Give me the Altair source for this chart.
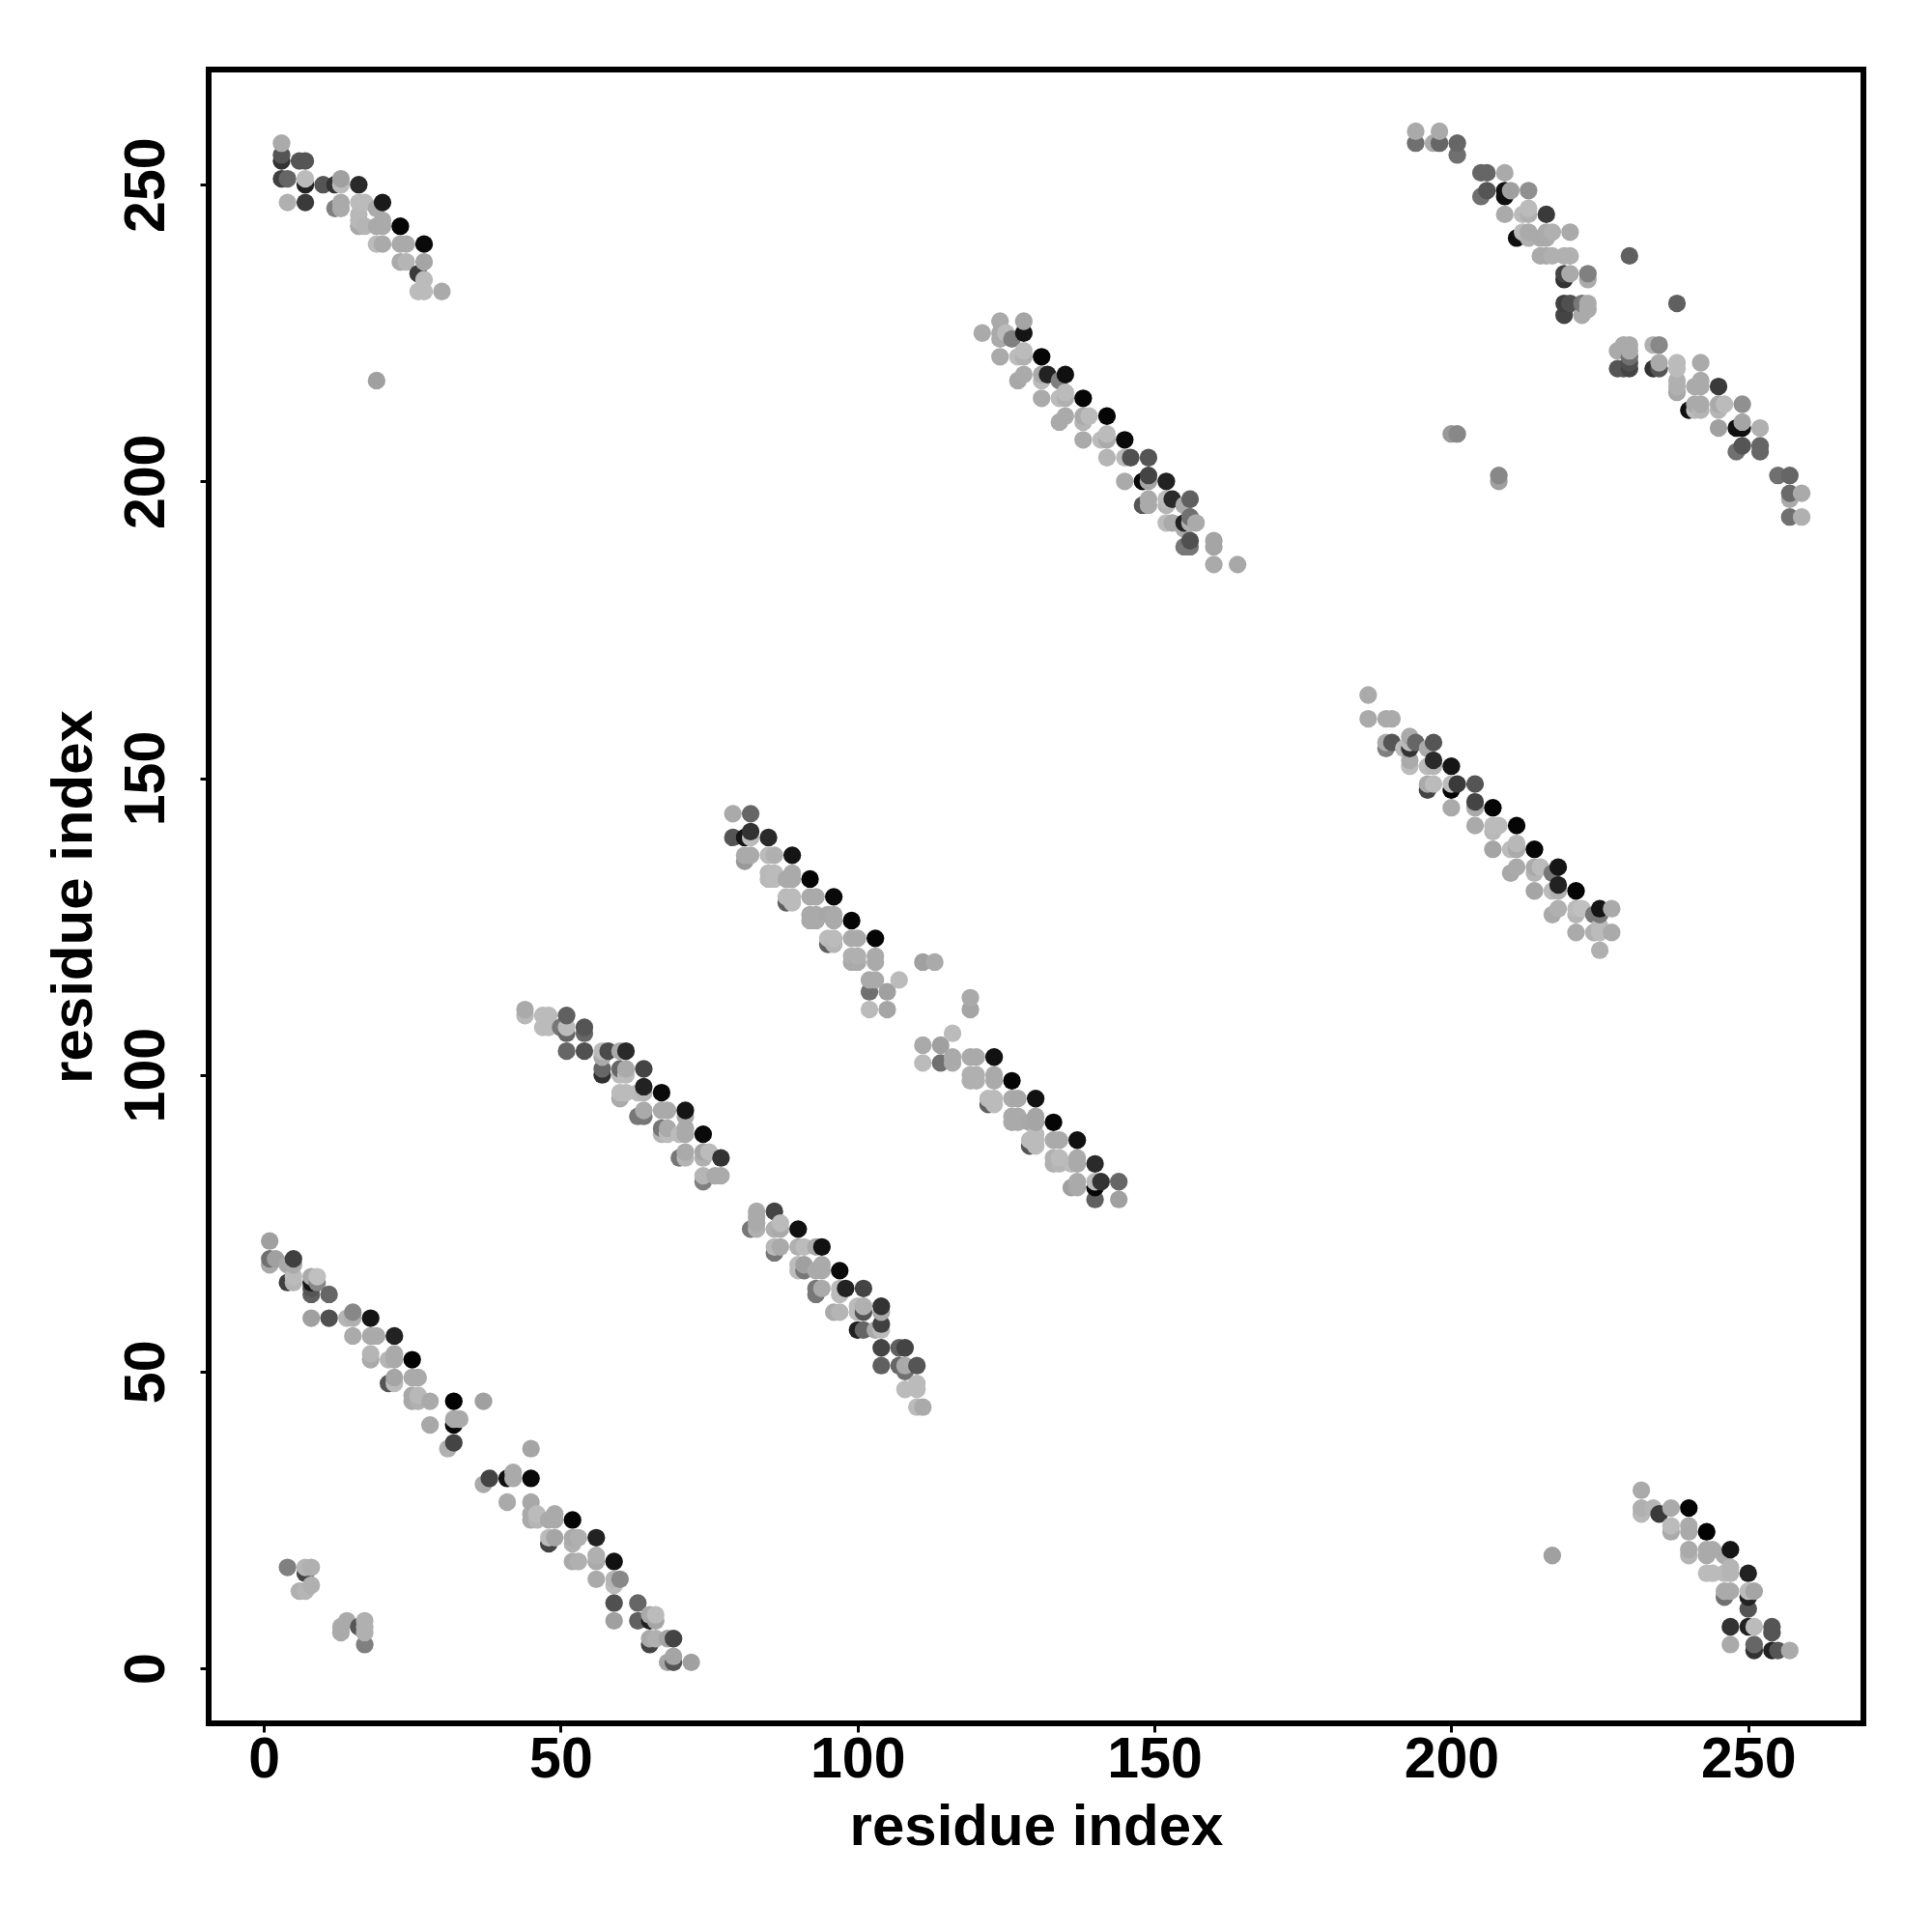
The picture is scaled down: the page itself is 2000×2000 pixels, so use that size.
import altair as alt
import pandas as pd

# (residue i, residue j, grey level), one list per stripe
top_left = [
 (3,257,0xAA),(3,255,0x55),(3,254,0x33),(3,251,0x40),(4,251,0x66),(4,247,0xB0),(6,254,0x55),(7,254,0x55),
 (7,250,0x22),(7,251,0xBB),(7,247,0x3A),(10,250,0x55),(12,250,0x33),(13,251,0xA0),(13,250,0xBB),(16,250,0x2A),
 (12,246,0x80),(13,247,0xAA),(13,246,0xAA),(16,247,0xBB),(17,247,0xBB),(16,245,0xB8),(16,244,0xB8),(16,243,0xAA),
 (17,243,0xB5),(19,246,0xAA),(20,247,0x1A),(20,244,0xAA),(19,243,0xAA),(20,243,0xAA),(23,243,0x05),(19,240,0xBB),
 (20,240,0xAA),(23,240,0xAA),(24,240,0xAA),(27,240,0x0A),(23,237,0xAA),(24,237,0xB5),(27,237,0xA5),(26,235,0x3A),
 (27,234,0xBB),(26,232,0xBB),(27,232,0xBB),(30,232,0xAA),(19,217,0xA0),
]
top_middle = [
 (121,225,0xAA),(124,227,0xAA),(124,225,0xAA),(124,224,0xAA),(125,225,0xBB),(124,221,0xAA),(126,224,0x80),(128,225,0x15),
 (128,227,0xA5),(127,221,0xBB),(128,222,0xBB),(128,221,0xB0),(131,221,0x05),(127,217,0xA8),(128,218,0xAA),(131,218,0xAA),
 (131,217,0xBB),(132,218,0x22),(134,217,0x80),(135,218,0x10),(131,214,0xAA),(134,214,0xBB),(135,214,0xB0),(135,215,0xBB),
 (138,214,0x05),(134,210,0xAA),(135,211,0xAA),(138,211,0xAA),(138,210,0xB5),(139,211,0xBB),(142,211,0x05),(138,207,0xAA),
 (141,207,0xBB),(142,207,0xAA),(142,208,0xBB),(145,207,0x0A),(142,204,0xB5),(145,204,0xBB),(146,204,0x50),(149,204,0x55),
 (145,200,0xAA),(148,200,0x0A),(149,200,0xA5),(149,201,0x44),(152,200,0x22),(148,196,0x55),(149,197,0xAA),(149,196,0xAA),
 (152,197,0xBB),(152,196,0xB5),(153,197,0x2A),(155,196,0xAA),(156,197,0x60),(152,193,0xBB),(153,193,0xAA),(155,193,0x22),
 (156,194,0x70),(156,193,0xB0),(157,193,0xAA),(155,189,0x77),(156,189,0x77),(156,190,0x50),(155,192,0xAA),(160,190,0xA5),
 (160,189,0xA5),(160,186,0xAA),(164,186,0xA8),
]
top_right = [
 (194,259,0xAA),(194,257,0x70),(197,257,0xAA),(198,259,0xAA),(198,257,0x66),(201,257,0x66),(201,255,0x70),(205,252,0x66),
 (206,252,0x66),(209,252,0xAA),(205,248,0x70),(206,249,0x55),(209,248,0x10),(209,249,0x11),(210,249,0xA0),(213,249,0x90),
 (209,245,0xAA),(212,245,0xBB),(213,246,0xBB),(213,245,0xB0),(216,245,0x3A),(212,242,0xBB),(211,241,0x10),(213,242,0xAA),
 (213,241,0xB0),(215,241,0xAA),(216,242,0xAA),(216,241,0xAA),(217,242,0xB0),(220,242,0xAA),(215,238,0xAA),(216,238,0xAA),
 (217,238,0xB0),(219,238,0xB0),(220,238,0xB0),(219,235,0x44),(219,234,0x33),(220,235,0xAA),(223,235,0x80),(223,234,0xAA),
 (230,238,0x60),(219,230,0x40),(220,230,0x50),(219,228,0x44),(222,230,0x77),(223,230,0xAA),(223,229,0xAA),(222,228,0xAA),
 (238,230,0x60),(228,222,0xAA),(229,223,0xAA),(230,223,0xAA),(230,222,0xAA),(230,221,0x70),(230,220,0x50),(230,219,0x44),
 (228,219,0x55),(229,219,0x55),(234,223,0xB0),(235,223,0x88),(234,219,0x33),(235,219,0x55),(235,220,0xAA),(238,220,0xBB),
 (238,219,0xBB),(238,217,0xB0),(238,216,0xB0),(238,215,0xA8),(242,220,0xAA),(241,216,0xAA),(242,217,0xAA),(242,216,0xAA),
 (245,216,0x3A),(241,213,0xAA),(240,212,0x10),(241,212,0xBB),(242,213,0xAA),(242,212,0xB5),(245,213,0xAA),(245,212,0xB5),
 (246,213,0xBB),(249,213,0x90),(245,209,0xA0),(248,209,0x11),(249,209,0x11),(249,210,0xA5),(252,209,0xB0),(248,205,0x70),
 (249,206,0x55),(252,206,0x66),(252,205,0x66),(255,201,0x70),(257,201,0x66),(257,198,0x6A),(257,197,0xAA),(259,198,0xAA),
 (257,194,0x70),(259,194,0xB0),(200,208,0x99),(201,208,0x88),(208,201,0x88),(208,200,0xA0),
]
right_middle = [
 (186,164,0xAA),(186,160,0xAA),(189,160,0xAA),(190,160,0xAA),(189,156,0xAA),(189,155,0x80),(190,156,0x55),(192,155,0xBB),
 (193,157,0xAA),(193,156,0xBB),(193,155,0x33),(194,156,0x66),(196,155,0xAA),(197,156,0x55),(193,153,0xAA),(193,152,0xBB),
 (196,152,0xBB),(197,152,0xB5),(197,153,0x2A),(200,152,0x15),(196,149,0xAA),(197,149,0xBB),(196,148,0x44),(200,149,0xBB),
 (200,148,0x05),(201,149,0x3A),(204,149,0x55),(200,145,0xAA),(204,146,0x44),(204,145,0xAA),(204,142,0xAA),(207,145,0x05),
 (207,142,0xBB),(207,141,0xB8),(208,142,0xBB),(211,142,0x05),(207,138,0xA5),(210,138,0xBB),(211,139,0xB8),(211,138,0xAA),
 (214,138,0x05),(210,134,0xA8),(211,135,0xAA),(214,135,0xAA),(214,134,0xB5),(215,135,0xBB),(217,134,0x77),(218,135,0x15),
 (218,132,0x22),(214,131,0xA5),(217,131,0xBB),(218,131,0xB0),(221,131,0x05),(217,127,0xAA),(218,128,0xB0),(221,128,0xBB),
 (221,127,0xB5),(222,128,0xC0),(224,127,0x77),(225,128,0x15),(225,127,0x77),(227,128,0xAA),(221,124,0xAA),(224,124,0xB0),
 (225,124,0xBB),(227,124,0xAA),(225,121,0xB0),(225,125,0xBB),
]
centre_upper = [
 (79,144,0xAA),(82,144,0x66),(79,140,0x55),(81,140,0x15),(82,141,0x33),(82,140,0xBB),(85,140,0x2A),(81,137,0xAA),
 (82,137,0xAA),(81,136,0x99),(85,137,0xBB),(86,137,0xB0),(89,137,0x15),(85,134,0xB8),(85,133,0xB8),(86,134,0xBB),
 (86,133,0xBB),(89,134,0xAA),(88,133,0xAA),(89,133,0xAA),(92,133,0x05),(88,130,0xBB),(88,129,0x60),(89,130,0xBB),
 (89,129,0xBB),(92,130,0xAA),(93,130,0xAA),(96,130,0x0A),(92,127,0xAA),(92,126,0xAA),(93,127,0xAA),(93,126,0xAA),
 (95,127,0xA8),(96,127,0xAA),(96,126,0xAA),(99,126,0x05),(95,123,0xBB),(95,122,0x60),(96,123,0xBB),(96,122,0xB5),
 (99,123,0xAA),(100,123,0xAA),(103,123,0x05),(99,120,0xB0),(99,119,0xAA),(100,120,0xB0),(100,119,0xAA),(103,120,0xAA),
 (103,119,0xAA),(102,116,0xAA),(103,116,0xAA),(102,114,0x70),(105,114,0xA0),(107,116,0xBB),(102,111,0xBB),(105,111,0xA5),
 (111,119,0xA0),(113,119,0xAA),
]
centre_lower = [
 (119,113,0xAA),(119,111,0xA5),(116,107,0xBB),(111,105,0xAA),(114,105,0xA0),(111,102,0xBB),(114,102,0x70),(116,103,0xAA),
 (116,102,0xAA),(119,103,0xAA),(120,103,0xAA),(123,103,0x11),(119,100,0xB0),(119,99,0xB0),(120,100,0xB0),(120,99,0xB0),
 (123,100,0xAA),(123,99,0xAA),(126,99,0x05),(122,96,0xBB),(122,95,0x60),(123,96,0xBB),(123,95,0xBB),(126,96,0xAA),
 (127,96,0xA8),(130,96,0x11),(126,93,0xAA),(126,92,0xAA),(127,93,0xAA),(127,92,0xAA),(130,93,0xA5),(130,92,0xA5),
 (129,92,0xA8),(133,92,0x05),(129,89,0xBB),(129,88,0x55),(130,90,0xBB),(130,89,0xBB),(130,88,0xBB),(133,89,0xAA),
 (134,89,0xAA),(137,89,0x11),(133,86,0xB0),(133,85,0xB0),(134,86,0xBB),(134,85,0xB5),(136,85,0xBB),(137,86,0xAA),
 (137,85,0xAA),(140,85,0x2A),(136,81,0xA0),(137,82,0xAA),(137,81,0xAA),(140,82,0xBB),(140,81,0x05),(141,82,0x33),
 (144,82,0x66),(140,79,0x60),(144,79,0xA0),
]
left_upper = [
 (44,111,0xAA),(44,110,0xB8),(47,110,0xBB),(48,110,0xBB),(47,108,0xBB),(48,108,0xBB),(50,108,0x77),(51,110,0x60),
 (51,108,0xBB),(51,107,0x66),(54,108,0x55),(54,107,0x66),(51,104,0x66),(54,104,0x50),(57,104,0xBB),(58,104,0x4A),
 (57,103,0xAA),(60,104,0xAA),(61,104,0x2A),(57,101,0x66),(57,100,0x30),(60,101,0x66),(61,101,0xAA),(60,100,0xBB),
 (61,100,0xBB),(64,101,0x44),(60,97,0xBB),(60,96,0xAA),(61,97,0xBB),(64,98,0x22),(64,97,0xB5),(63,97,0xBB),
 (67,97,0x0A),(63,93,0x77),(64,93,0x77),(64,94,0xAA),(67,94,0xAA),(68,94,0xAA),(71,94,0x15),(71,93,0xAA),
 (67,91,0x77),(67,90,0xB5),(68,91,0xAA),(68,90,0xBB),(70,90,0xBB),(71,91,0xAA),(71,90,0xAA),(74,90,0x0A),
 (70,86,0x77),(71,87,0xAA),(71,86,0xB5),(74,87,0xA5),(74,86,0xB0),(75,87,0xBB),(77,86,0x33),(74,83,0xB5),
 (74,82,0x80),(76,83,0xAA),(77,83,0xAA),
]
mid_lower = [
 (83,77,0xAA),(83,76,0xAA),(83,75,0xAA),(82,74,0x77),(83,74,0xB0),(86,77,0x44),(86,74,0xB0),(87,75,0xBB),
 (87,74,0xAA),(90,74,0x11),(86,71,0xB8),(86,70,0x77),(87,71,0xAA),(90,71,0xB0),(91,71,0xBB),(93,71,0xAA),
 (94,71,0x11),(90,68,0xBB),(90,67,0xBB),(91,68,0xA0),(91,67,0x77),(93,67,0xAA),(94,68,0xAA),(94,67,0xAA),
 (97,67,0x0A),(93,64,0x77),(93,63,0x77),(94,64,0xAA),(97,64,0xBB),(97,63,0xBB),(98,64,0x22),(101,64,0x44),
 (96,60,0xAA),(97,60,0xB5),(100,61,0xBB),(100,60,0xBB),(101,61,0xB0),(101,60,0x55),(104,61,0x33),(104,60,0xAA),
 (104,58,0x40),(104,57,0xBB),(100,57,0x22),(101,57,0x66),(103,57,0xAA),(104,54,0x44),(107,54,0x60),(108,54,0x44),
 (104,51,0x60),(107,51,0x66),(108,51,0xAA),(108,50,0x70),(110,51,0x55),(108,47,0xBB),(110,48,0xBB),(110,47,0xBB),
 (110,44,0xBB),(111,44,0xAA),
]
low_left_a = [
 (1,72,0xA0),(1,69,0x70),(1,68,0xA8),(2,69,0xA0),(5,69,0x40),(4,68,0xA8),(5,68,0xAA),(4,65,0x40),
 (5,65,0xB5),(5,66,0xBB),(8,66,0xAA),(9,66,0xC0),(8,65,0x15),(9,65,0x88),(8,64,0x55),(8,63,0x60),
 (11,63,0x66),(8,59,0xA0),(11,59,0x50),(14,59,0xB5),(15,60,0x88),(15,59,0xB0),(18,59,0x15),(15,56,0xAA),
 (18,56,0xAA),(19,56,0xAA),(22,56,0x22),(18,53,0xB5),(18,52,0xAA),(21,52,0xB5),(22,53,0xAA),(22,52,0xAA),
 (25,52,0x02),(21,48,0x55),(22,49,0xA5),(22,48,0xBB),(25,49,0xAA),(26,49,0xAA),(25,46,0xA8),(25,45,0xA8),
 (26,46,0xB8),(26,45,0xB0),(28,45,0xAA),(32,45,0x02),(37,45,0xA0),(28,41,0xA8),(32,42,0xAA),(33,42,0xAA),
 (32,41,0x08),(31,37,0xB0),(32,38,0x44),
]
low_left_b = [
 (45,37,0xA5),(37,31,0xAA),(38,32,0x44),(41,32,0x10),(42,33,0xAA),(42,32,0xAA),(45,32,0x0A),(41,28,0xAA),
 (45,28,0xA8),(45,26,0xAA),(45,25,0xAA),(46,26,0xBB),(46,25,0xB5),(48,25,0xAA),(49,26,0xAA),(49,25,0xAA),
 (52,25,0x05),(48,22,0xBB),(48,21,0x44),(49,22,0xA5),(52,22,0xAA),(52,21,0xB0),(53,22,0xB0),(56,22,0x22),
 (52,18,0xAA),(53,18,0xB0),(56,19,0xB0),(56,18,0xAA),(59,18,0x11),(56,15,0xAA),(59,15,0xB5),(59,14,0xBB),
 (60,15,0x88),(59,11,0x50),(59,8,0xA0),(63,11,0x66),(63,8,0x60),(65,9,0xAA),(66,9,0xBB),(66,8,0xA5),
 (65,8,0x20),(65,5,0xAA),(65,4,0x44),(66,5,0xB0),(68,5,0xA5),(69,5,0x44),(68,1,0xA5),(69,2,0xA5),
 (69,1,0x55),(72,1,0xA0),
]
low_right = [
 (232,30,0xAA),(232,27,0xB0),(232,26,0xB8),(234,27,0xB5),(235,26,0x3A),(237,27,0xAA),(240,27,0x05),(237,24,0xBB),
 (237,23,0xAA),(240,24,0xAA),(240,23,0xAA),(243,23,0x02),(240,20,0xAA),(240,19,0xB5),(243,20,0xAA),(243,19,0xAA),
 (244,20,0xAA),(246,19,0xAA),(247,20,0x15),(243,16,0xBB),(244,16,0xBB),(246,16,0xBB),(247,17,0xB5),(247,16,0xB5),
 (250,16,0x22),(246,13,0xAA),(247,13,0xAA),(246,12,0x70),(250,13,0xBB),(251,13,0xA5),(250,12,0x22),(250,10,0x55),
 (247,7,0x33),(250,7,0x22),(251,7,0xBB),(254,7,0x55),(254,6,0x55),(247,4,0xAA),(251,4,0x66),(251,3,0x33),
 (254,3,0x22),(255,3,0x55),(257,3,0xAA),(217,19,0xA0),
]
corner = [
 (4,17,0x80),(7,17,0xB5),(8,17,0xB0),(7,16,0x44),(6,13,0xB0),(7,13,0xB5),(8,14,0xB0),(14,8,0xAA),
 (13,7,0xAA),(13,6,0xAA),(16,7,0x55),(17,8,0xB0),(17,7,0xB0),(17,6,0xB0),(17,4,0x80),
]

rows = (top_left + top_middle + top_right + right_middle + centre_upper + centre_lower
        + left_upper + mid_lower + low_left_a + low_left_b + low_right + corner)
df = pd.DataFrame(rows, columns=["i", "j", "g"]).drop_duplicates(["i", "j"]).sort_values(["i", "j"])
df["shade"] = df["g"].map(lambda g: "#%02x%02x%02x" % (g, g, g))

ticks = [0, 50, 100, 150, 200, 250]
domain = [-9.28, 269.4]
FONT = "Liberation Sans"


def axis(**kw):
    return alt.Axis(
        title="residue index", values=ticks, grid=False, domain=False,
        tickColor="black", tickWidth=3, tickSize=9,
        labelFont=FONT, labelFontWeight="bold", labelFontSize=59, labelColor="black",
        titleFont=FONT, titleFontWeight="bold", titleFontSize=60, titleColor="black",
        **kw,
    )


chart = (
    alt.Chart(df)
    .mark_circle(size=335, opacity=1)
    .encode(
        x=alt.X("i:Q", scale=alt.Scale(domain=domain, nice=False, zero=False),
                axis=axis(labelPadding=-1, titlePadding=11)),
        y=alt.Y("j:Q", scale=alt.Scale(domain=domain, nice=False, zero=False),
                axis=axis(labelAngle=270, labelAlign="center", labelBaseline="bottom",
                          labelPadding=26, titlePadding=15)),
        color=alt.Color("shade:N", scale=None),
    )
    .properties(width=1713, height=1712, background="white",
                autosize=alt.AutoSizeParams(type="none"),
                padding={"left": 208, "top": 64, "right": 60, "bottom": 190})
    .configure_view(stroke="black", strokeWidth=6, fill="white")
)
chart.save("out.html", embed_options={"renderer": "svg", "actions": False})
